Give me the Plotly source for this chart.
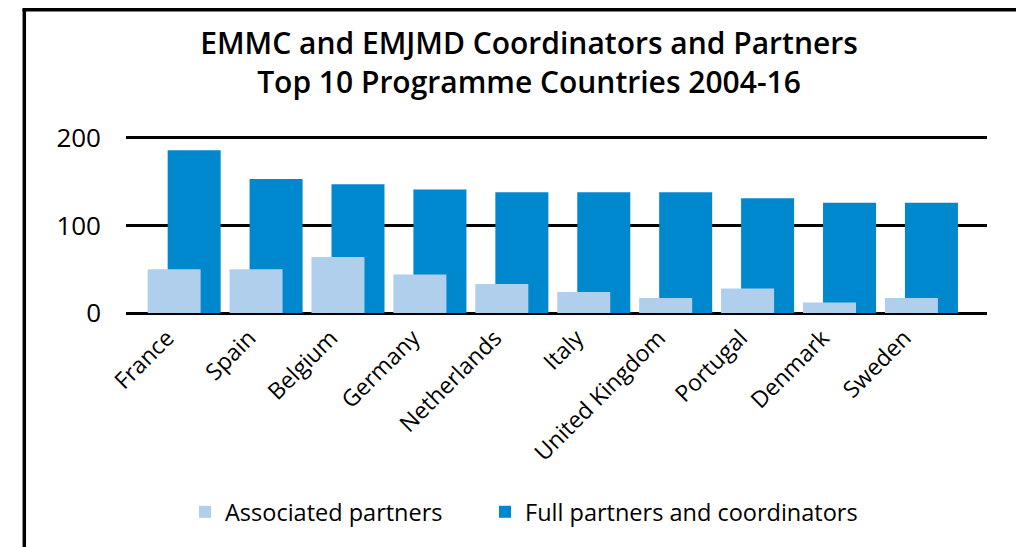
import plotly.graph_objects as go

countries = ["France", "Spain", "Belgium", "Germany", "Netherlands", "Italy",
             "United Kingdom", "Portugal", "Denmark", "Sweden"]
associated = [50, 50, 64, 44, 33, 24, 17, 28, 12, 17]
full = [186, 153, 147, 141, 138, 138, 138, 131, 126, 126]
y_ticks = [0, 100, 200]

DARK = "#0088cf"
LIGHT = "#afcfec"
FONT = "Open Sans"

fig = go.Figure()
fig.add_trace(go.Bar(
    x=countries, y=full, name="Full partners and coordinators",
    marker=dict(color=DARK, line=dict(width=0)),
    offset=-0.2015, width=0.647, legend="legend2",
))
fig.add_trace(go.Bar(
    x=countries, y=associated, name="Associated partners",
    marker=dict(color=LIGHT, line=dict(width=0)),
    offset=-0.446, width=0.647, legend="legend",
))

# page coordinates (browser body has an 8px margin)
OFF = 8
W, H = 1024, 547
PL, PR, PT, PB = 126, 987, 134, 313  # plot area in page pixels
L = PL - OFF
R = W - (PR - OFF)
T = PT - OFF
B = H - (PB - OFF)
pw = W - L - R
ph = H - T - B


def px_x(x):
    return (x - PL) / pw


def px_y(y):
    return (PB - y) / ph


legend_common = dict(
    orientation="h", xanchor="left", y=px_y(512), yanchor="middle",
    font=dict(size=23.5, family=FONT, color="black"),
    itemwidth=30, bgcolor="rgba(0,0,0,0)",
)

fig.update_layout(
    width=W, height=H,
    margin=dict(l=L, r=R, t=T, b=B),
    paper_bgcolor="white", plot_bgcolor="white",
    barmode="overlay",
    font=dict(family=FONT, color="black"),
    title=dict(
        text="EMMC and EMJMD Coordinators and Partners<br>Top 10 Programme Countries 2004-16",
        x=(529 - OFF) / W, xanchor="center", xref="container",
        y=1 - (54 - OFF) / H, yanchor="middle", yref="container",
        font=dict(family=FONT, size=30, color="black", weight=600),
    ),
    xaxis=dict(
        range=[-0.71, 9.8], showgrid=False, zeroline=False, showline=False,
        tickangle=-45, tickfont=dict(size=23, family=FONT, color="black"),
        ticks="", ticklabelstandoff=6, ticklabelshift=-17,
    ),
    yaxis=dict(
        range=[0, 204.5], tickvals=y_ticks, showgrid=True, gridcolor="black",
        gridwidth=2.7, zeroline=True, zerolinecolor="black", zerolinewidth=2.7,
        showline=False, ticks="", ticklabelstandoff=24,
        tickfont=dict(size=26, family=FONT, color="black"),
    ),
    legend=dict(x=px_x(185), **legend_common),
    legend2=dict(x=px_x(485), **legend_common),
    showlegend=True,
    shapes=[
        dict(type="line", xref="paper", yref="paper", x0=px_x(24.3), x1=px_x(24.3),
             y0=px_y(9), y1=px_y(570), line=dict(color="black", width=3.5)),
        dict(type="line", xref="paper", yref="paper", x0=px_x(22.5), x1=px_x(1040),
             y0=px_y(9.8), y1=px_y(9.8), line=dict(color="black", width=3.5)),
    ],
)

fig.write_html("out.html")
